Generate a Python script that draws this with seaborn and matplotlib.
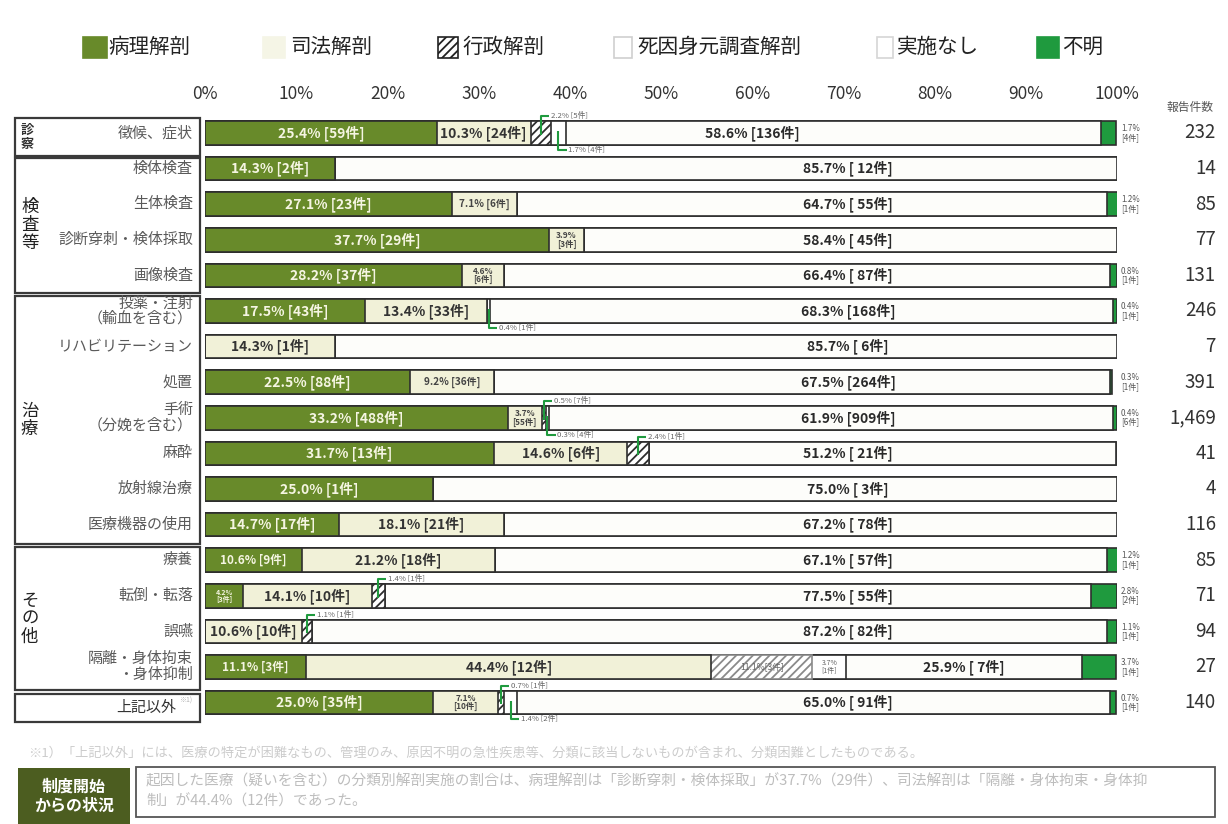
import numpy as np
import matplotlib
matplotlib.use("Agg")
import matplotlib.pyplot as plt
from matplotlib.patches import Rectangle
import seaborn as sns

# ---------------------------------------------------------------- data
row_keys = ["徴候、症状", "検体検査", "生体検査", "診断穿刺・検体採取", "画像検査",
            "投薬・注射", "リハビリテーション", "処置", "手術", "麻酔", "放射線治療",
            "医療機器の使用", "療養", "転倒・転落", "誤嚥", "隔離・身体拘束・身体抑制",
            "上記以外"]
row_labels = ["徴候、症状", "検体検査", "生体検査", "診断穿刺・検体採取", "画像検査",
              "投薬・注射\n（輸血を含む）", "リハビリテーション", "処置",
              "手術\n（分娩を含む）", "麻酔", "放射線治療", "医療機器の使用", "療養",
              "転倒・転落", "誤嚥", "隔離・身体拘束\n・身体抑制", "上記以外"]
group_names = ["診察", "検査等", "治療", "その他", ""]
group_sizes = [1, 4, 7, 4, 1]

series = ["病理解剖", "司法解剖", "行政解剖", "死因身元調査解剖", "実施なし", "不明"]

pct_byouri = [25.4, 14.3, 27.1, 37.7, 28.2, 17.5, 0.0, 22.5, 33.2, 31.7, 25.0, 14.7, 10.6, 4.2, 0.0, 11.1, 25.0]
pct_shihou = [10.3, 0.0, 7.1, 3.9, 4.6, 13.4, 14.3, 9.2, 3.7, 14.6, 0.0, 18.1, 21.2, 14.1, 10.6, 44.4, 7.1]
pct_gyousei = [2.2, 0.0, 0.0, 0.0, 0.0, 0.0, 0.0, 0.0, 0.5, 2.4, 0.0, 0.0, 0.0, 1.4, 1.1, 11.1, 0.7]
pct_shiin = [1.7, 0.0, 0.0, 0.0, 0.0, 0.4, 0.0, 0.0, 0.3, 0.0, 0.0, 0.0, 0.0, 0.0, 0.0, 3.7, 1.4]
pct_nashi = [58.6, 85.7, 64.7, 58.4, 66.4, 68.3, 85.7, 67.5, 61.9, 51.2, 75.0, 67.2, 67.1, 77.5, 87.2, 25.9, 65.0]
pct_fumei = [1.7, 0.0, 1.2, 0.0, 0.8, 0.4, 0.0, 0.3, 0.4, 0.0, 0.0, 0.0, 1.2, 2.8, 1.1, 3.7, 0.7]

n_byouri = [59, 2, 23, 29, 37, 43, 0, 88, 488, 13, 1, 17, 9, 3, 0, 3, 35]
n_shihou = [24, 0, 6, 3, 6, 33, 1, 36, 55, 6, 0, 21, 18, 10, 10, 12, 10]
n_gyousei = [5, 0, 0, 0, 0, 0, 0, 0, 7, 1, 0, 0, 0, 1, 1, 3, 1]
n_shiin = [4, 0, 0, 0, 0, 1, 0, 0, 4, 0, 0, 0, 0, 0, 0, 1, 2]
n_nashi = [136, 12, 55, 45, 87, 168, 6, 264, 909, 21, 3, 78, 57, 55, 82, 7, 91]
n_fumei = [4, 0, 1, 0, 1, 1, 0, 1, 6, 0, 0, 0, 1, 2, 1, 1, 1]

totals = [232, 14, 85, 77, 131, 246, 7, 391, 1469, 41, 4, 116, 85, 71, 94, 27, 140]

# ---------------------------------------------------------------- style
OLIVE = "#688a2a"
CREAM = "#f1f1d8"
WHITE = "#ffffff"
NASHI = "#fdfdfa"
GREEN = "#1f9a3e"
EDGE = "#2e2e2e"

face_colors = [OLIVE, CREAM, WHITE, WHITE, NASHI, GREEN]
hatches = [None, None, "////", None, None, None]

sns.set_style("white")
plt.rcParams["font.family"] = ["Noto Sans CJK JP", "DejaVu Sans"]
plt.rcParams["hatch.linewidth"] = 1.3

W, H = 1228, 824
fig = plt.figure(figsize=(W / 100, H / 100), dpi=100)
fig.patch.set_facecolor("white")


def fx(x):
    return x / W


def fy(y):
    return 1 - y / H


ax_top, ax_bot = 115.2, 720.4
ax = fig.add_axes([fx(205), fy(ax_bot), 912 / W, (ax_bot - ax_top) / H])

pct = np.array([pct_byouri, pct_shihou, pct_gyousei, pct_shiin, pct_nashi, pct_fumei])
cnt = np.array([n_byouri, n_shihou, n_gyousei, n_shiin, n_nashi, n_fumei])
cum = np.cumsum(pct, axis=0)
start = cum - pct

# stacked bars: draw cumulative widths from the last series backwards
for k in range(len(series) - 1, -1, -1):
    n0 = len(ax.patches)
    sns.barplot(x=cum[k], y=row_keys, order=row_keys, orient="h", ax=ax,
                color=face_colors[k], saturation=1, width=0.66, errorbar=None,
                edgecolor=EDGE, linewidth=1.2, hatch=hatches[k])
    if k == 2:
        # lighter hatching on the restraint row
        ax.patches[n0 + 15].set_edgecolor("#8a8a8a")

ax.set_xlim(0, 100)
ax.set_ylim(16.5, -0.5)
ax.set_xlabel("")
ax.set_ylabel("")
for s in ax.spines.values():
    s.set_visible(False)
ax.xaxis.tick_top()
ax.set_xticks(np.arange(0, 101, 10))
ax.set_xticklabels([f"{v}%" for v in range(0, 101, 10)])
ax.tick_params(axis="x", length=0, pad=9, labelsize=12.5, labelcolor="#333333")
ax.tick_params(axis="y", left=False, labelleft=False)

# ---------------------------------------------------------------- bar labels
LABEL_FS = 10
nashi_pos = {0: 60.0}
for i in range(len(row_keys)):
    # pathology
    p, n = pct[0, i], cnt[0, i]
    if p > 0:
        xc = start[0, i] + p / 2
        if p >= 12:
            ax.text(xc, i, f"{p:.1f}% [{n}件]", ha="center", va="center",
                    fontsize=LABEL_FS, fontweight="bold", color="#f5f5e2")
        elif p >= 7:
            ax.text(xc, i, f"{p:.1f}% [{n}件]", ha="center", va="center",
                    fontsize=8.5, fontweight="bold", color="#f5f5e2")
        else:
            ax.text(xc, i, f"{p:.1f}%\n[{n}件]", ha="center", va="center",
                    fontsize=5, fontweight="bold", color="#f5f5e2", linespacing=0.9)
    # forensic
    p, n = pct[1, i], cnt[1, i]
    if p > 0:
        xc = start[1, i] + p / 2
        if p >= 10:
            ax.text(xc, i, f"{p:.1f}% [{n}件]", ha="center", va="center",
                    fontsize=LABEL_FS, fontweight="bold", color="#333333")
        elif p >= 7 and i != 16:
            ax.text(xc, i, f"{p:.1f}% [{n}件]", ha="center", va="center",
                    fontsize=7.2, fontweight="bold", color="#444444")
        else:
            ax.text(xc, i, f"{p:.1f}%\n[{n}件]", ha="center", va="center",
                    fontsize=6, fontweight="bold", color="#444444", linespacing=0.9)
    # administrative / identity autopsies
    for k, side in ((2, -1), (3, 1)):
        p, n = pct[k, i], cnt[k, i]
        if p <= 0:
            continue
        xc = start[k, i] + p / 2
        if p >= 10:
            ax.text(xc, i, f"{p:.1f}%[{n}件]", ha="center", va="center",
                    fontsize=6.2, color="#666666")
        elif p >= 3:
            ax.text(xc, i, f"{p:.1f}%\n[{n}件]", ha="center", va="center",
                    fontsize=5, color="#666666", linespacing=0.9)
        else:
            yend = i + side * 0.47
            ax.plot([xc, xc, xc + 0.9], [i - side * 0.05, yend, yend],
                    color=GREEN, lw=1.5, clip_on=False, solid_capstyle="butt")
            ax.text(xc + 1.1, yend, f"{p:.1f}% [{n}件]", ha="left", va="center",
                    fontsize=5.6, color="#666666", clip_on=False)
    # no autopsy
    p, n = pct[4, i], cnt[4, i]
    if p > 0:
        if i in nashi_pos:
            xc = nashi_pos[i]
        elif start[4, i] > 60:
            xc = start[4, i] + p / 2
        else:
            xc = 70.5
        ntxt = f"[ {n}件]" if n < 100 else f"[{n}件]"
        ax.text(xc, i, f"{p:.1f}% {ntxt}", ha="center", va="center",
                fontsize=LABEL_FS, fontweight="bold", color="#2a2a2a")
    # unknown
    p, n = pct[5, i], cnt[5, i]
    if p > 0:
        ax.text(100.45, i, f"{p:.1f}%\n[{n}件]", ha="left", va="center",
                fontsize=5.8, color="#555555", linespacing=0.95, clip_on=False)

# ---------------------------------------------------------------- report counts
ytr = ax.get_yaxis_transform()
ax.text((1190 - 205) / 912, -0.72, "報告件数", transform=ytr, ha="center", va="center",
        fontsize=8.5, color="#555555")
for i, t in enumerate(totals):
    ax.text((1216 - 205) / 912, i, f"{t:,}", transform=ytr, ha="right", va="center",
            fontsize=13.5, color="#333333")

# ---------------------------------------------------------------- left category table
def ax_x(px):
    return (px - 205) / 912


box_left, box_right = ax_x(15), ax_x(200)
edges = [(-0.42, 0.64), (0.70, 4.49), (4.57, 11.55), (11.64, 15.64), (15.75, 16.55)]
for g, (name, size) in enumerate(zip(group_names, group_sizes)):
    top, bot = edges[g]
    ax.add_patch(Rectangle((box_left, top), box_right - box_left, bot - top,
                           transform=ytr, fill=False, edgecolor="#3a3a3a",
                           linewidth=1.6, clip_on=False))
    if name:
        yc = (top + bot) / 2
        if size == 1:
            ax.text(ax_x(21), yc, "\n".join(name), transform=ytr, ha="left",
                    va="center", fontsize=9.5, fontweight="bold", color="#333333",
                    linespacing=0.95)
        else:
            ax.text(ax_x(21), yc, "\n".join(name), transform=ytr, ha="left",
                    va="center", fontsize=12.5, color="#222222", linespacing=1.0)

for i, lab in enumerate(row_labels):
    if i == 16:
        top, bot = edges[-1]
        ax.text(ax_x(176), (top + bot) / 2, lab, transform=ytr, ha="right",
                va="center", fontsize=10.8, color="#333333")
    else:
        ax.text(ax_x(193), i, lab, transform=ytr, ha="right", va="center",
                fontsize=10.8, color="#5a5a5a", linespacing=1.1)
ax.text(ax_x(179), 15.95, "※1)", transform=ytr, ha="left", va="center",
        fontsize=5, color="#b5b5b5")

# ---------------------------------------------------------------- legend
leg_items = [
    (83, 108, 24, OLIVE, None, OLIVE),
    (263, 290, 22, "#f5f5e6", None, "#f5f5e6"),
    (438, 462, 20, WHITE, "////", "#222222"),
    (614, 637, 18, WHITE, None, "#cfcfcf"),
    (877, 897, 16, WHITE, None, "#d6d6d6"),
    (1037, 1062, 22, GREEN, None, GREEN),
]
for name, (px, tx, pw, fc, hat, ec) in zip(series, leg_items):
    fig.patches.append(Rectangle((fx(px), fy(58)), pw / W, 21 / H, transform=fig.transFigure,
                                 facecolor=fc, edgecolor=ec, hatch=hat, linewidth=1.2))
    fig.text(fx(tx), fy(47), name, ha="left", va="center", fontsize=14.8, color="#222222")

# ---------------------------------------------------------------- notes
fig.text(fx(28), fy(753),
         "※1）「上記以外」には、医療の特定が困難なもの、管理のみ、原因不明の急性疾患等、"
         "分類に該当しないものが含まれ、分類困難としたものである。",
         ha="left", va="center", fontsize=9.5, color="#cccccc")

fig.patches.append(Rectangle((fx(18), fy(826)), 112 / W, 58 / H, transform=fig.transFigure,
                             facecolor="#4c5d20", edgecolor="none"))
fig.text(fx(74), fy(796), "制度開始\nからの状況", ha="center", va="center", fontsize=11.5,
         fontweight="bold", color="white", linespacing=1.25)
fig.patches.append(Rectangle((fx(136), fy(817)), 1079 / W, 50 / H, transform=fig.transFigure,
                             facecolor="white", edgecolor="#555555", linewidth=1.3))
summary = (f"起因した医療（疑いを含む）の分類別解剖実施の割合は、病理解剖は「{row_keys[3]}」が"
           f"{pct_byouri[3]:.1f}%（{n_byouri[3]}件）、司法解剖は「隔離・身体拘束・身体抑\n"
           f"制」が{pct_shihou[15]:.1f}%（{n_shihou[15]}件）であった。")
fig.text(fx(146), fy(791), summary, ha="left", va="center", fontsize=10.6,
         color="#bdbdbd", linespacing=1.5)

fig.savefig("out.png", dpi=100, facecolor="white")
